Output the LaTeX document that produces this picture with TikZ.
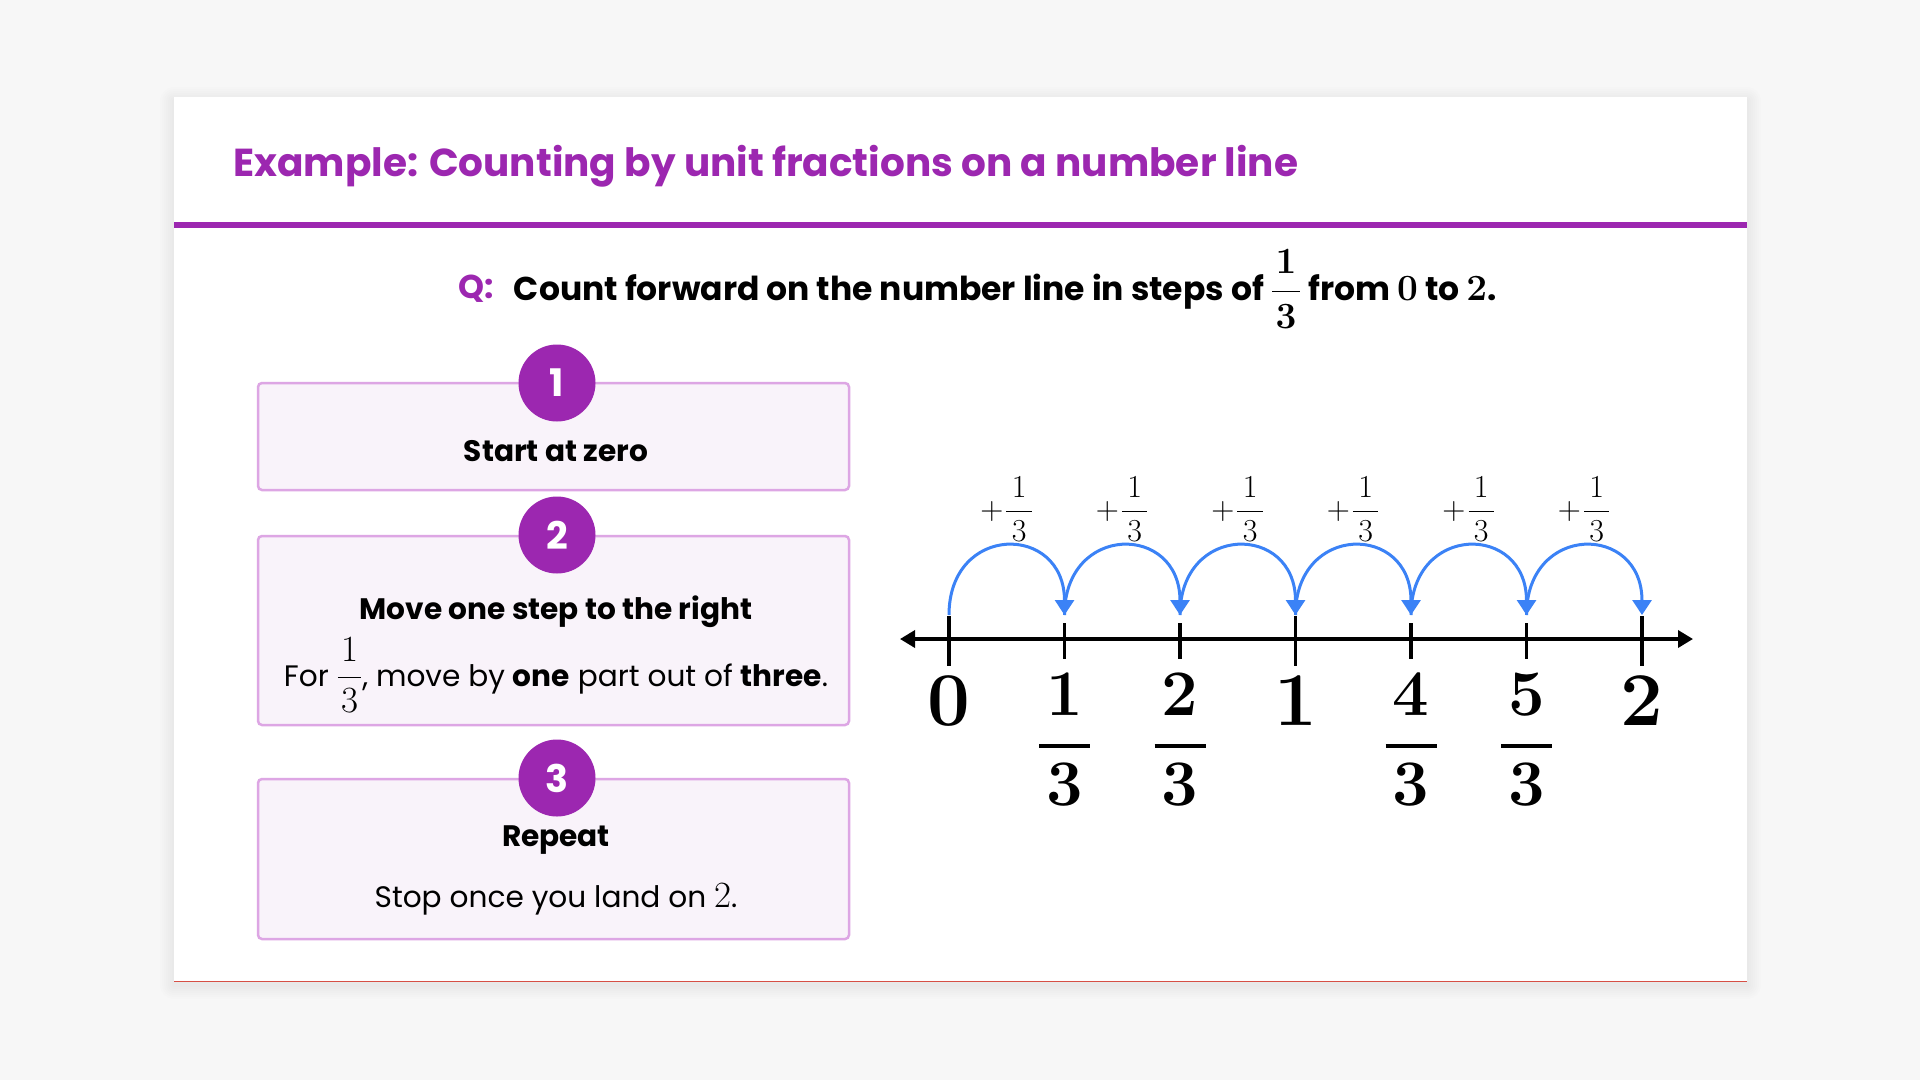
\RequirePackage{fix-cm}
\documentclass[tikz,border=0pt]{standalone}
\usepackage{amsmath}
\usepackage[no-math]{fontspec}
\setmainfont{Poppins}
\usetikzlibrary{positioning,arrows.meta}

\definecolor{deeppurple}{RGB}{156,39,176}
\definecolor{lilacline}{RGB}{221,166,228}
\definecolor{lilacfill}{RGB}{249,243,250}
\definecolor{jumpblue}{RGB}{59,130,246}
\definecolor{pagegray}{RGB}{247,247,247}
\definecolor{edgered}{RGB}{214,80,70}

\newcommand{\mnum}[1]{{\fontsize{37}{37}\selectfont$#1$}}
\newcommand{\third}{\dfrac{\mkern1.5mu 1\mkern1.5mu}{\mkern1.5mu 3\mkern1.5mu}}

\begin{document}
\begin{tikzpicture}[x=1pt,y=-1pt,
    stepbox/.style={draw=lilacline, fill=lilacfill, line width=2.5, rounded corners=4, inner sep=0},
    badge/.style={circle, fill=deeppurple, text=white, minimum size=77, inner sep=0, font=\fontsize{38}{38}\selectfont\bfseries},
    headtext/.style={font=\fontsize{29.6}{32}\selectfont\bfseries},
    bodytext/.style={font=\fontsize{29.6}{32}\selectfont},
    qtext/.style={font=\fontsize{33}{36}\selectfont\bfseries, inner sep=0, anchor=west},
    ticmark/.style={line width=3.5},
    jump/.style={jumpblue, line width=3, -{Triangle[length=15,width=19]}},
    plusfrac/.style={font=\fontsize{32}{32}\selectfont, inner sep=0},
    bignum/.style={font=\fontsize{76}{76}\selectfont, inner sep=0},
    fracnum/.style={font=\fontsize{65}{65}\selectfont, inner sep=0}]

    % Page and card
    \useasboundingbox (0,0) rectangle (1920,1080);
    \fill[pagegray] (0,0) rectangle (1920,1080);
    \foreach \s in {2,4,...,14}
        \fill[black, opacity=0.006, rounded corners=\s] (174-\s,97-\s+4) rectangle (1747+\s,981+\s+4);
    \fill[white] (174,97) rectangle (1747,981);
    \draw[edgered, line width=1] (174,981) -- (1747,981);
    \draw[deeppurple, line width=6] (174,225) -- (1747,225);

    % Title and question
    \node[anchor=west, inner sep=0, text=deeppurple, font=\fontsize{39}{42}\selectfont\bfseries] (title) at (233,166) {Example: Counting by unit fractions on a number line};
    \node[qtext, text=deeppurple] (q) at (458,289) {Q:};
    \node[qtext, right=20 of q] (question) {Count forward on the number line in steps of \mnum{\boldsymbol{\third}} from \mnum{\mathbf{0}} to \mnum{\mathbf{2}}.};

    % Steps
    \node[stepbox, minimum width=591, minimum height=107] (box1) at (553.5,436.5) {};
    \node[stepbox, minimum width=591, minimum height=189] (box2) at (553.5,630.5) {};
    \node[stepbox, minimum width=591, minimum height=160] (box3) at (553.5,859) {};
    \node[badge] (b1) at (557,383) {1};
    \node[badge] (b2) at (557,535) {2};
    \node[badge] (b3) at (557,778) {3};
    \node[headtext] (s1) at (556,451) {Start at zero};
    \node[headtext] (s2) at (556,612) {Move one step to the right};
    \node[bodytext] (s2b) at (556,675) {For \mnum{\third}, move by \textbf{one} part out of \textbf{three}.};
    \node[headtext] (s3) at (556,840) {Repeat};
    \node[bodytext] (s3b) at (556,899) {Stop once you land on \mnum{2}.};

    % Number line
    \coordinate (axl) at (900,639);
    \coordinate (axr) at (1693,639);
    \draw[line width=3.5, {Triangle[length=15,width=17]}-{Triangle[length=15,width=17]}] (axl) -- (axr);
    \foreach \k [evaluate=\k as \x using 949+115.5*\k] in {0,...,6}
        \coordinate (top\k) at (\x,615);
    \foreach \k [evaluate=\k as \x using 949+115.5*\k] in {1,2,4,5} {
        \draw[ticmark] (\x,623) -- (\x,659);
        \node[fracnum] (num\k) at (\x,695) {$\mathbf{\k}$};
        \node[fracnum] (den\k) at (\x,785) {$\mathbf{3}$};
        \draw[line width=4.5] (\x-25.5,746) -- (\x+25.5,746);
    }
    \foreach \k/\v [evaluate=\k as \x using 949+115.5*\k] in {0/0,3/1,6/2} {
        \draw[ticmark] (\x,616) -- (\x,666);
        \node[bignum] (int\k) at (\x,701) {$\mathbf{\v}$};
    }

    % Jumps
    \foreach \k [evaluate=\k as \j using int(\k+1), evaluate=\k as \x using 949+115.5*\k+57.75] in {0,...,5} {
        \draw[jump] (top\k) .. controls +(0,-92) and +(0,-92) .. (top\j);
        \node[plusfrac] (plus\k) at (\x,509) {$+\mkern1mu\dfrac{\mkern3mu 1\mkern3mu}{\mkern3mu 3\mkern3mu}$};
    }

\end{tikzpicture}
\end{document}
